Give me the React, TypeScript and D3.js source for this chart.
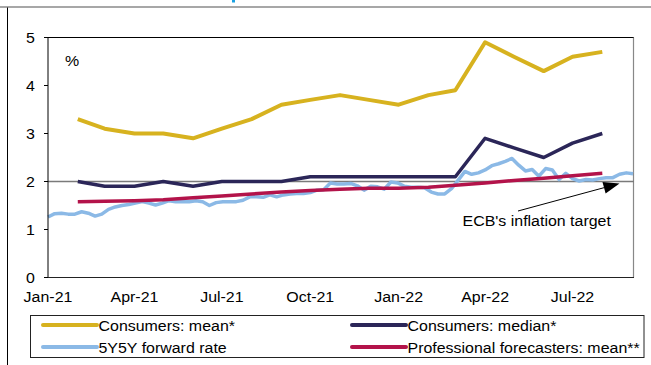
import React from "react";
import * as d3 from "d3";

// ---- Data ----
const xTickLabels = ["Jan-21", "Apr-21", "Jul-21", "Oct-21", "Jan-22", "Apr-22", "Jul-22"];
const yTicks = [0, 1, 2, 3, 4, 5];

const surveyMonths = [
  "Feb-21", "Mar-21", "Apr-21", "May-21", "Jun-21", "Jul-21", "Aug-21", "Sep-21", "Oct-21",
  "Nov-21", "Dec-21", "Jan-22", "Feb-22", "Mar-22", "Apr-22", "May-22", "Jun-22", "Jul-22", "Aug-22",
];
const consumersMean = [3.3, 3.1, 3.0, 3.0, 2.9, 3.1, 3.3, 3.6, 3.7, 3.8, 3.7, 3.6, 3.8, 3.9, 4.9, 4.6, 4.3, 4.6, 4.7];
const consumersMedian = [2.0, 1.9, 1.9, 2.0, 1.9, 2.0, 2.0, 2.0, 2.1, 2.1, 2.1, 2.1, 2.1, 2.1, 2.9, 2.7, 2.5, 2.8, 3.0];
const professionalMean = [1.58, 1.59, 1.6, 1.62, 1.66, 1.7, 1.74, 1.78, 1.81, 1.84, 1.86, 1.86, 1.88, 1.92, 1.97, 2.02, 2.07, 2.12, 2.17];

// weekly observations starting 1 Jan 2021
const forwardStart = "2021-01-01";
const forwardRate = [
  1.26, 1.33, 1.34, 1.32, 1.32, 1.37, 1.34, 1.28, 1.32, 1.42,
  1.47, 1.5, 1.52, 1.55, 1.58, 1.55, 1.51, 1.55, 1.6, 1.58,
  1.58, 1.58, 1.6, 1.58, 1.5, 1.56, 1.58, 1.58, 1.58, 1.61,
  1.68, 1.68, 1.67, 1.72, 1.68, 1.72, 1.74, 1.75, 1.75, 1.77,
  1.82, 1.83, 1.97, 1.95, 1.95, 1.96, 1.91, 1.82, 1.9, 1.89,
  1.84, 1.99, 1.97, 1.9, 1.88, 1.88, 1.87, 1.78, 1.74, 1.74,
  1.85, 2.03, 2.21, 2.15, 2.18, 2.24, 2.33, 2.37, 2.42, 2.48,
  2.34, 2.22, 2.25, 2.11, 2.27, 2.24, 2.04, 2.17, 2.06, 2.01,
  2.04, 2.03, 2.06, 2.08, 2.08, 2.15, 2.18, 2.16,
];
const ecbTarget = 2;

const seriesNames = ["Consumers: mean*", "Consumers: median*", "5Y5Y forward rate", "Professional forecasters: mean**"];
const seriesColors = ["#D7B21F", "#2B2658", "#8BB9E6", "#B3134A"];

// ---- Layout ----
const W = 651;
const H = 365;
const M = { left: 48, right: 634, top: 37.5, bottom: 277.5 };
const FS = 14.5;
const SX = 1.1;
const FONT = "'Liberation Sans', Arial, sans-serif";

const parseMonth = d3.timeParse("%b-%y");
const parseDay = d3.timeParse("%Y-%m-%d");

function T({ x, y, anchor = "start", children }: any) {
  return (
    <text
      transform={`translate(${x},${y}) scale(${SX},1)`}
      textAnchor={anchor}
      fontFamily={FONT}
      fontSize={FS}
      fill="#000"
    >
      {children}
    </text>
  );
}

export default function App() {
  const x = d3
    .scaleTime()
    .domain([parseDay("2021-01-01") as Date, parseDay("2022-09-03") as Date])
    .range([M.left, M.right]);
  const y = d3.scaleLinear().domain([0, 5]).range([M.bottom, M.top]);

  const surveyDates = surveyMonths.map((m) => parseMonth(m) as Date);
  const fStart = parseDay(forwardStart) as Date;
  const forwardDates = forwardRate.map((_, i) => d3.timeDay.offset(fStart, 7 * i));

  const line = d3
    .line<[Date, number]>()
    .x((d) => x(d[0]))
    .y((d) => y(d[1]));

  const pairs = (dates: Date[], vals: number[]) => vals.map((v, i) => [dates[i], v] as [Date, number]);

  const series = [
    { vals: pairs(forwardDates, forwardRate), color: seriesColors[2], w: 3.5 },
    { vals: pairs(surveyDates, professionalMean), color: seriesColors[3], w: 3.5 },
    { vals: pairs(surveyDates, consumersMedian), color: seriesColors[1], w: 3.5 },
    { vals: pairs(surveyDates, consumersMean), color: seriesColors[0], w: 4 },
  ];

  const legendItems = [
    { name: seriesNames[0], color: seriesColors[0], lx: 43, ly: 325 },
    { name: seriesNames[1], color: seriesColors[1], lx: 352, ly: 325 },
    { name: seriesNames[2], color: seriesColors[2], lx: 43, ly: 347 },
    { name: seriesNames[3], color: seriesColors[3], lx: 352, ly: 347 },
  ];

  const yTarget = y(ecbTarget);
  const tip = { x: 619.5, y: 183.5 };
  const tail = { x: 518, y: 211 };
  const ang = Math.atan2(tip.y - tail.y, tip.x - tail.x);
  const hl = 16;
  const hw = 6;
  const bx = tip.x - hl * Math.cos(ang);
  const by = tip.y - hl * Math.sin(ang);
  const head = [
    [tip.x, tip.y],
    [bx + hw * Math.sin(ang), by - hw * Math.cos(ang)],
    [bx - hw * Math.sin(ang), by + hw * Math.cos(ang)],
  ];

  return (
    <svg
      width={W}
      height={H}
      style={{ position: "absolute", left: 0, top: 0, background: "#fff" }}
    >
      <rect x={0} y={0} width={W} height={H} fill="#fff" />
      {/* outer frame */}
      <line x1={0} x2={W} y1={7} y2={7} stroke="#8a8a8a" strokeWidth={1.5} />
      <line x1={7.5} x2={7.5} y1={7.5} y2={H} stroke="#000" strokeWidth={1} />
      <rect x={232} y={0} width={3} height={2.5} fill="#1BA1E2" />

      {/* plot frame */}
      <line x1={M.left} x2={M.right} y1={M.top} y2={M.top} stroke="#000" strokeWidth={1} />
      <line x1={M.right - 0.5} x2={M.right - 0.5} y1={M.top} y2={M.bottom} stroke="#888" strokeWidth={1.2} />

      {/* ECB target line */}
      <line x1={M.left} x2={M.right} y1={yTarget} y2={yTarget} stroke="#7a7a7a" strokeWidth={1.3} />

      {/* series */}
      {series.map((s, i) => (
        <path
          key={i}
          d={line(s.vals) || ""}
          fill="none"
          stroke={s.color}
          strokeWidth={s.w}
          strokeLinejoin="round"
        />
      ))}

      {/* axes */}
      <line x1={M.left} x2={M.left} y1={M.top} y2={M.bottom} stroke="#000" strokeWidth={1} />
      <line x1={M.left} x2={M.right} y1={M.bottom} y2={M.bottom} stroke="#222" strokeWidth={1.2} />
      {yTicks.map((t) => (
        <g key={t}>
          <line x1={M.left - 4} x2={M.left} y1={y(t)} y2={y(t)} stroke="#000" strokeWidth={1} />
          <T x={35} y={y(t) + 5.2} anchor="end">
            {t}
          </T>
        </g>
      ))}
      {xTickLabels.map((l) => (
        <T key={l} x={x(parseMonth(l) as Date)} y={302} anchor="middle">
          {l}
        </T>
      ))}
      <T x={65} y={66}>%</T>

      {/* annotation */}
      <line x1={tail.x} y1={tail.y} x2={bx} y2={by} stroke="#000" strokeWidth={1} />
      <polygon points={head.map((p) => p.join(",")).join(" ")} fill="#000" />
      <T x={462.5} y={226}>ECB's inflation target</T>

      {/* legend */}
      <rect x={30.5} y={315.5} width={613.5} height={42} fill="none" stroke="#222" strokeWidth={1} />
      {legendItems.map((it) => (
        <g key={it.name}>
          <line x1={it.lx} x2={it.lx + 54} y1={it.ly} y2={it.ly} stroke={it.color} strokeWidth={4} strokeLinecap="round" />
          <T x={it.lx + 55.5} y={it.ly + 5.5}>{it.name}</T>
        </g>
      ))}
    </svg>
  );
}
